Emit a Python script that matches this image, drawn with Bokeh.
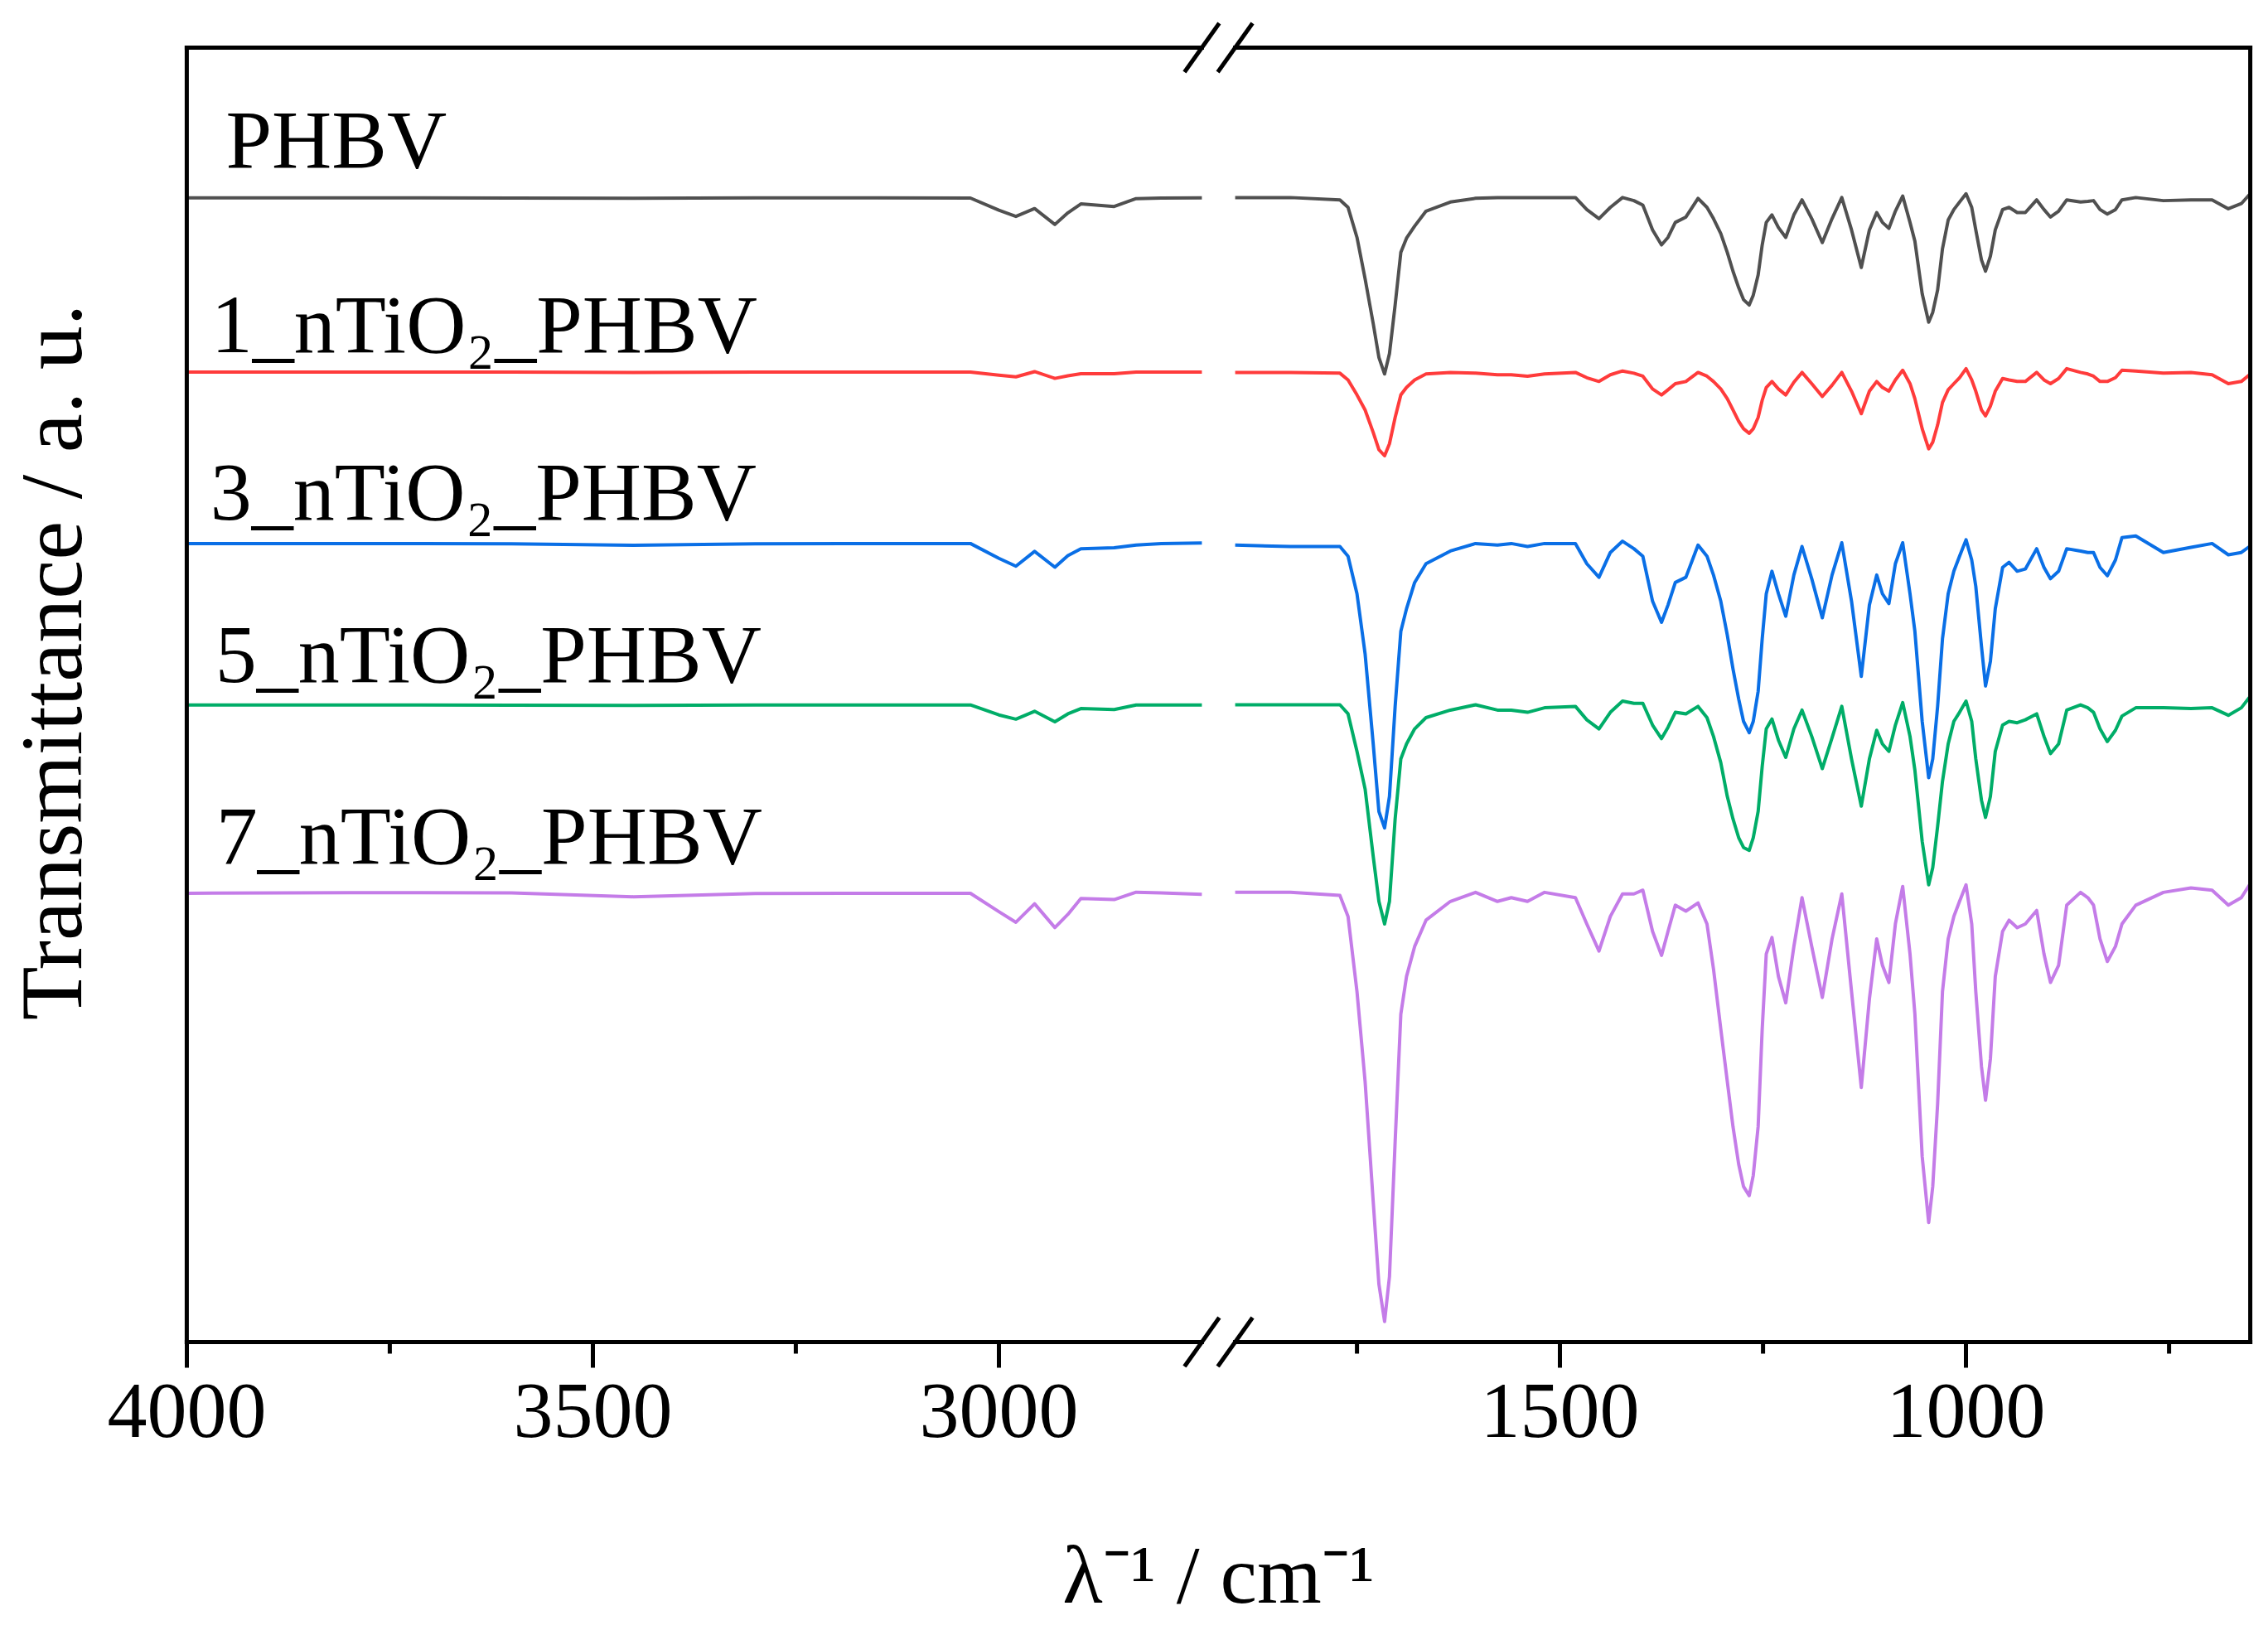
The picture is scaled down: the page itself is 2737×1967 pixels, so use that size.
from bokeh.plotting import figure
from bokeh.models import Range1d, FixedTicker
from bokeh.core.properties import value
from bokeh.embed import file_html
from bokeh.resources import INLINE

# ---------------- data ----------------
SERIES = ["PHBV", "1_nTiO\u2082_PHBV", "3_nTiO\u2082_PHBV", "5_nTiO\u2082_PHBV", "7_nTiO\u2082_PHBV"]
COLORS = ["#505050", "#FF3B3B", "#0A6FE6", "#00AD68", "#C47CE8"]

# wavenumbers of the high-wavenumber segment (cm-1)
WN_LEFT = [4000, 3800, 3600, 3450, 3300, 3150, 3035, 3000, 2979, 2956, 2931, 2915, 2899, 2858, 2831, 2800, 2750]
PHBV_L = [88.40, 88.40, 88.38, 88.36, 88.40, 88.40, 88.38, 87.44, 86.96, 87.57, 86.34, 87.24, 87.93, 87.73, 88.34, 88.38, 88.40]
T1_L = [74.93, 74.93, 74.93, 74.90, 74.93, 74.93, 74.93, 74.69, 74.57, 74.97, 74.45, 74.65, 74.81, 74.81, 74.93, 74.93, 74.93]
T3_L = [61.69, 61.69, 61.66, 61.55, 61.66, 61.69, 61.69, 60.55, 59.94, 61.08, 59.86, 60.75, 61.28, 61.36, 61.57, 61.69, 61.73]
T5_L = [49.22, 49.22, 49.20, 49.18, 49.22, 49.22, 49.22, 48.45, 48.12, 48.73, 47.92, 48.53, 48.94, 48.86, 49.22, 49.22, 49.22]
T7_L = [34.67, 34.72, 34.70, 34.40, 34.65, 34.67, 34.67, 33.25, 32.43, 33.86, 32.02, 33.04, 34.26, 34.18, 34.75, 34.70, 34.59]

# wavenumbers of the fingerprint segment (cm-1)
WN_RIGHT = [1900, 1832, 1771, 1761, 1750, 1740, 1730, 1723, 1716, 1710, 1703, 1696, 1689, 1679, 1665,
            1635, 1604, 1577, 1560, 1540, 1519,
            1481, 1467, 1452, 1438, 1423, 1409, 1398, 1386, 1375, 1367, 1358, 1345, 1330, 1319, 1311,
            1302, 1294, 1287, 1280, 1274, 1267, 1262, 1256, 1251, 1246, 1239, 1231, 1222, 1212, 1202,
            1190, 1177, 1165, 1153, 1141, 1129, 1119, 1110, 1103, 1095, 1087, 1078, 1069,
            1063, 1054, 1046, 1041, 1035, 1029, 1022, 1015, 1008, 1000, 993, 988, 981, 976, 970,
            964, 955, 947, 937, 927, 913, 904, 896, 886, 876, 859, 850, 843, 835, 826,
            816, 808, 791, 757, 723, 697, 677, 661, 651]
PHBV_R = [88.42, 88.42, 88.24, 87.66, 85.34, 82.15, 78.68, 76.07, 74.79, 76.36, 80.12, 84.18, 85.28, 86.21, 87.37,
          88.07, 88.36, 88.42, 88.42, 88.42, 88.42,
          88.42, 87.49, 86.79, 87.66, 88.42, 88.18, 87.84, 85.92, 84.76, 85.34,
          86.50, 86.91, 88.36, 87.66, 86.79, 85.63, 84.18, 82.73, 81.46, 80.53,
          80.12, 80.88, 82.44, 84.76, 86.50, 87.08, 86.10, 85.34, 87.08, 88.24,
          86.79, 84.94, 86.79, 88.42, 85.92, 83.02, 85.92, 87.26, 86.50, 86.04,
          87.37, 88.53, 86.50,
          85.05, 80.99, 78.79, 79.55, 81.28, 84.47, 86.68, 87.49, 88.07, 88.71,
          87.66, 85.92, 83.60, 82.73, 83.89, 85.92, 87.49, 87.66, 87.26, 87.26,
          88.24, 87.49, 86.91, 87.37, 88.24, 88.07, 88.12, 88.18, 87.49, 87.14,
          87.49, 88.24, 88.42, 88.18, 88.24, 88.24, 87.55, 87.95, 88.65]
T1_R = [74.91, 74.91, 74.85, 74.33, 73.17, 72.01, 70.27, 68.94, 68.47, 69.40, 71.43, 73.17, 73.75, 74.33, 74.79,
        74.91, 74.85, 74.73, 74.73, 74.62, 74.79,
        74.91, 74.50, 74.21, 74.73, 75.02, 74.85, 74.62, 73.63, 73.17, 73.57,
        74.04, 74.21, 74.91, 74.62, 74.21, 73.63, 72.88, 72.01, 71.14, 70.56,
        70.21, 70.56, 71.43, 72.76, 73.75, 74.21, 73.63, 73.17, 74.15, 74.91,
        74.04, 73.05, 73.92, 74.91, 73.46, 71.72, 73.46, 74.21, 73.75, 73.46,
        74.33, 75.08, 74.04,
        72.88, 70.56, 69.00, 69.52, 70.85, 72.59, 73.57, 74.04, 74.50, 75.20,
        74.33, 73.46, 72.01, 71.55, 72.30, 73.46, 74.44, 74.33, 74.21, 74.21,
        74.91, 74.33, 74.04, 74.44, 75.20, 74.91, 74.79, 74.62, 74.21, 74.21,
        74.50, 75.08, 75.02, 74.85, 74.91, 74.73, 74.04, 74.21, 74.73]
T3_R = [61.57, 61.46, 61.46, 60.71, 57.81, 53.17, 46.21, 40.99, 39.72, 42.15, 49.11, 54.91, 56.65, 58.68, 60.13,
        61.11, 61.69, 61.57, 61.69, 61.46, 61.69,
        61.69, 60.13, 59.08, 61.00, 61.87, 61.29, 60.71, 57.23, 55.60, 56.94,
        58.68, 59.08, 61.57, 60.71, 59.26, 57.23, 54.62, 52.01, 49.69, 47.95,
        47.08, 47.95, 50.27, 54.33, 57.81, 59.55, 57.81, 56.07, 59.26, 61.46,
        58.97, 55.95, 59.26, 61.75, 57.23, 51.43, 56.94, 59.26, 57.81, 57.05,
        60.13, 61.75, 57.81,
        54.91, 47.95, 43.60, 45.05, 49.11, 54.33, 57.81, 59.55, 60.71, 61.98,
        60.42, 58.39, 53.75, 50.68, 52.59, 56.65, 59.84, 60.24, 59.55, 59.72,
        61.29, 59.84, 58.97, 59.55, 61.29, 61.11, 61.00, 61.00, 59.84, 59.20,
        60.42, 62.15, 62.27, 61.00, 61.40, 61.69, 60.82, 61.00, 61.46]
T5_R = [49.23, 49.23, 49.23, 48.53, 45.63, 42.73, 37.52, 34.04, 32.30, 34.04, 40.42, 45.05, 46.21, 47.37, 48.24,
        48.82, 49.23, 48.82, 48.82, 48.65, 49.00,
        49.11, 48.07, 47.37, 48.65, 49.52, 49.34, 49.34, 47.66, 46.62, 47.49,
        48.65, 48.53, 49.11, 48.24, 46.79, 44.76, 42.15, 40.42, 38.97, 38.21,
        37.98, 38.97, 40.99, 44.47, 47.37, 48.13, 46.50, 45.17, 47.37, 48.82,
        46.79, 44.30, 46.68, 49.11, 45.05, 41.40, 45.05, 47.26, 46.21, 45.63,
        47.66, 49.40, 46.79,
        44.18, 38.68, 35.32, 36.65, 39.84, 43.32, 46.21, 47.95, 48.65, 49.52,
        47.95, 45.05, 41.86, 40.53, 42.15, 45.63, 47.66, 47.95, 47.84, 48.07,
        48.53, 46.79, 45.46, 46.21, 48.82, 49.23, 49.00, 48.65, 47.37, 46.39,
        47.26, 48.36, 49.00, 49.00, 48.94, 49.00, 48.42, 49.00, 49.81]
T7_R = [34.74, 34.74, 34.50, 32.88, 27.08, 20.13, 10.85, 4.47, 1.58, 5.05, 15.49, 25.34, 28.24, 30.56, 32.59,
        34.04, 34.74, 34.04, 34.33, 34.04, 34.74,
        34.33, 32.30, 30.21, 32.88, 34.62, 34.62, 34.91, 31.72, 29.87, 31.72,
        33.75, 33.29, 33.92, 32.30, 28.82, 24.18, 20.13, 16.65, 13.75, 12.01,
        11.31, 12.88, 16.65, 24.18, 29.98, 31.25, 28.24, 26.21, 30.56, 34.33,
        30.56, 26.62, 31.14, 34.62, 27.08, 19.67, 26.50, 31.14, 29.11, 27.78,
        32.30, 35.20, 29.98,
        25.34, 14.33, 9.23, 12.01, 18.39, 27.08, 31.14, 32.88, 34.04, 35.32,
        32.30, 27.08, 21.29, 18.68, 21.87, 28.24, 31.72, 32.59, 32.01, 32.30,
        33.34, 29.98, 27.78, 29.11, 33.75, 34.74, 34.33, 33.75, 31.14, 29.40,
        30.56, 32.30, 33.75, 34.74, 35.08, 34.91, 33.75, 34.33, 35.32]

LEFT_VALUES = [PHBV_L, T1_L, T3_L, T5_L, T7_L]
RIGHT_VALUES = [PHBV_R, T1_R, T3_R, T5_R, T7_R]

# sample labels: anchor wavenumber and transmittance (text middle)
LABEL_WN = [3952, 3970, 3971, 3965, 3964]
LABEL_T = [92.89, 78.62, 65.69, 53.14, 39.12]

MAJOR_TICKS = [4000, 3500, 3000, 1500, 1000]
MINOR_TICKS = [3750, 3250, 1750, 1250, 750]

# ---------------- broken axis mapping ----------------
X_START, LEFT_END, RIGHT_START, X_END = 4000, 2750, 1900, 650
GAP = 41
SHIFT = LEFT_END - GAP - RIGHT_START
Y_LOW, Y_HIGH = 0, 100


def axis_pos(wn):
    return wn if wn >= LEFT_END else wn + SHIFT


FONT = "Liberation Serif"
FRAME_W = 5
XL, XR = LEFT_END, RIGHT_START + SHIFT       # the two sides of the break
XA, XB = X_START, X_END + SHIFT              # left and right frame sides

p = figure(width=2735, height=1962, output_backend="svg", toolbar_location=None,
           x_range=Range1d(XA + 5, XB - 5), y_range=Range1d(Y_LOW - 1.985, Y_HIGH + 3.649),
           min_border_left=219, min_border_right=15, min_border_top=0, min_border_bottom=312)
p.grid.visible = False
p.outline_line_color = None
p.background_fill_color = "white"
p.border_fill_color = "white"

for name, col, lv, rv in zip(SERIES, COLORS, LEFT_VALUES, RIGHT_VALUES):
    n = min(len(WN_RIGHT), len(rv))
    p.line(WN_LEFT, lv, line_color=col, line_width=4, line_join="round")
    p.line([axis_pos(w) for w in WN_RIGHT[:n]], rv[:n], line_color=col, line_width=4, line_join="round")

p.text(x=[axis_pos(w) for w in LABEL_WN], y=LABEL_T, text=SERIES,
       text_font=value(FONT), text_font_size="100px", text_color="black",
       text_align="left", text_baseline="middle")

# frame (broken at the axis break)
p.segment(x0=[XA, XB, XA, XR, XA, XR], y0=[Y_LOW, Y_LOW, Y_HIGH, Y_HIGH, Y_LOW, Y_LOW],
          x1=[XA, XB, XL, XB, XL, XB], y1=[Y_HIGH, Y_HIGH, Y_HIGH, Y_HIGH, Y_LOW, Y_LOW],
          line_color="black", line_width=FRAME_W, line_cap="square")
# break marks "//"
dx, dy = 21.4, 1.89
bx, by = [], []
for yy in (Y_LOW, Y_HIGH):
    for xc in (XL, XR):
        bx.append(xc)
        by.append(yy)
p.segment(x0=[x + dx for x in bx], y0=[y - dy for y in by], x1=[x - dx for x in bx], y1=[y + dy for y in by],
          line_color="black", line_width=FRAME_W)
# minor ticks below the frame
p.segment(x0=[axis_pos(t) for t in MINOR_TICKS], y0=[Y_LOW] * len(MINOR_TICKS),
          x1=[axis_pos(t) for t in MINOR_TICKS], y1=[Y_LOW - 0.9] * len(MINOR_TICKS),
          line_color="black", line_width=5)

# x axis
xa = p.xaxis[0]
xa.ticker = FixedTicker(ticks=[axis_pos(t) for t in MAJOR_TICKS], minor_ticks=[])
xa.major_label_overrides = {axis_pos(t): str(t) for t in MAJOR_TICKS}
xa.axis_line_color = None
xa.major_tick_in = 31
xa.major_tick_out = 0
xa.major_tick_line_width = 5
xa.minor_tick_in = 0
xa.minor_tick_out = 0
xa.major_label_standoff = 20
xa.major_label_text_font = FONT
xa.major_label_text_font_size = "96px"
xa.major_label_text_color = "black"
xa.axis_label = "\u03bb\u207b\u00b9 / cm\u207b\u00b9"
xa.axis_label_text_font = FONT
xa.axis_label_text_font_size = "100px"
xa.axis_label_text_font_style = "normal"
xa.axis_label_text_color = "black"
xa.axis_label_standoff = 108

# y axis
ya = p.yaxis[0]
ya.ticker = FixedTicker(ticks=[])
ya.axis_line_color = None
ya.major_tick_out = 0
ya.major_tick_in = 0
ya.minor_tick_out = 0
ya.minor_tick_in = 0
ya.major_label_standoff = 0
ya.axis_label = "\u00a0\u00a0Transmittance / a. u."
ya.axis_label_text_font = FONT
ya.axis_label_text_font_size = "106px"
ya.axis_label_text_font_style = "normal"
ya.axis_label_text_color = "black"
ya.axis_label_standoff = 100

open("out.html", "w").write(file_html(p, INLINE))
